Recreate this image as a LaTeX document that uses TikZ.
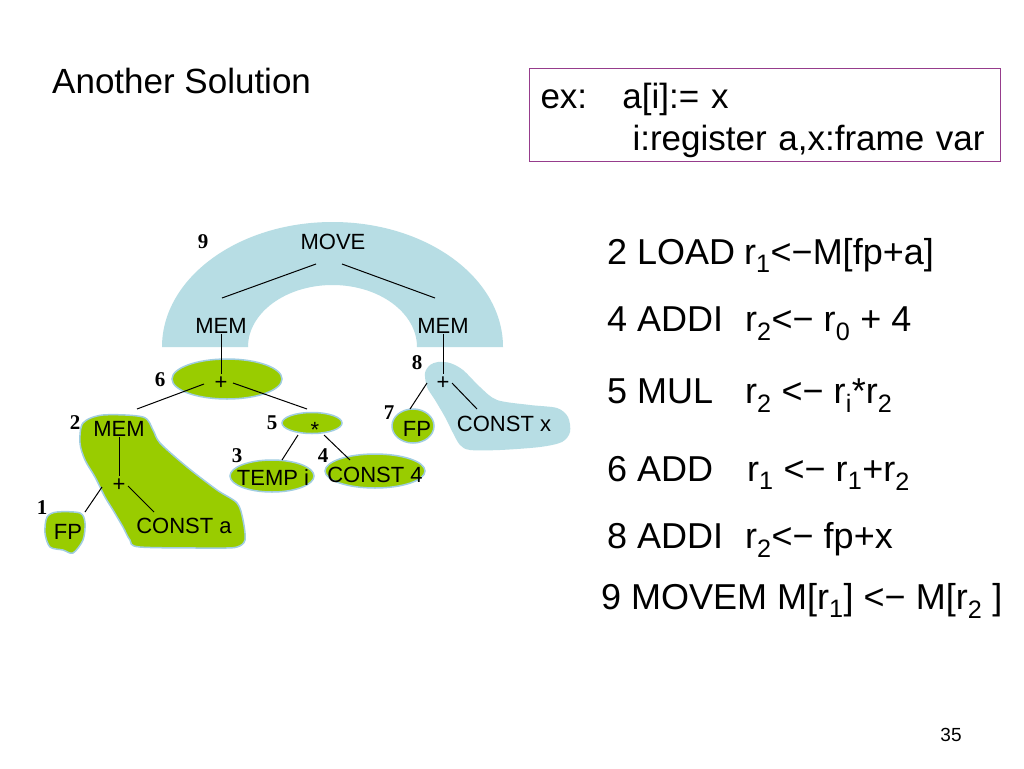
\documentclass[tikz,border=0pt]{standalone}
\usepackage{fontspec}
\setmainfont{Liberation Sans}
\newfontfamily\numfont{Liberation Serif}
\usepackage{tikz}
\newcommand{\Reg}[1]{r\textsubscript{#1}}
\newcommand{\Gets}{<−}
\definecolor{archblue}{RGB}{183,221,228}
\definecolor{leafgreen}{RGB}{153,204,0}
\definecolor{rimblue}{RGB}{160,205,225}
\definecolor{framepurple}{RGB}{150,60,140}

\begin{document}
\begin{tikzpicture}[x=1pt,y=-1pt
        ,tree/.style = {font=\fontsize{22}{26}\selectfont, inner sep=0pt, text height=15pt, text depth=0pt}
        ,num/.style = {font=\numfont\bfseries\fontsize{21}{24}\selectfont, inner sep=0pt, text height=14pt, text depth=0pt}
        ,instr/.style = {font=\fontsize{36}{42}\selectfont, anchor=base west, inner sep=0pt}
        ,branch/.style = {line width=1pt}
        ,patch/.style = {fill=leafgreen, draw=rimblue, line width=1.5pt}
        ,cover/.style = {fill=archblue}
      ]
      \useasboundingbox (0,0) rectangle (1024,768);
      \fill[white] (0,0) rectangle (1024,768);

      \node[anchor=base west, inner sep=0pt, font=\fontsize{35}{42}\selectfont] (title) at (52,93) {Another Solution};
      \node[draw=framepurple, line width=1pt, anchor=north west, inner xsep=11pt, inner ysep=0pt, minimum height=93pt, text width=449pt, align=left, font=\fontsize{35}{42}\selectfont] (ex) at (529,68) {\rule{0pt}{36pt}\makebox[82pt][l]{ex:}a[i]:= x\\ \hspace*{92pt}i:register a,x:frame var};

      % shaded groups
      \fill[cover] (162,347) arc[start angle=180, end angle=360, x radius=170.5, y radius=125] -- (417,347) arc[start angle=0, end angle=-180, x radius=84.5, y radius=62] -- cycle;
      \fill[cover] plot[smooth cycle] coordinates {(430,365) (438,362) (450,363) (463,370) (480,387) (497,400) (530,405) (557,408) (568,417) (570,432) (562,442) (540,447) (500,450) (470,450) (460,445) (453,433) (445,417) (435,400) (427,387) (425,373)};
      \filldraw[patch] plot[smooth cycle] coordinates {(83,423) (103,415) (143,417) (153,430) (160,443) (187,467) (217,490) (237,503) (243,520) (245,540) (237,547) (217,548) (140,547) (130,540) (123,527) (113,510) (105,497) (95,477) (85,460) (80,443)};
      \filldraw[patch] plot[smooth cycle] coordinates {(47,517) (57,512) (80,513) (85,523) (83,540) (73,553) (63,550) (50,547) (45,533)};
      \filldraw[patch] (227,379) ellipse[x radius=55, y radius=20];
      \filldraw[patch] (312,423) ellipse[x radius=30, y radius=10.5];
      \filldraw[patch] (272,476) ellipse[x radius=42, y radius=16];
      \filldraw[patch] (375,471) ellipse[x radius=50, y radius=17];
      \filldraw[patch] (413,426) ellipse[x radius=21, y radius=17];

      % tree
      \node[tree] (move) at (333,241.5) {MOVE};
      \node[tree] (memL) at (221,326) {MEM};
      \node[tree] (memR) at (443,326) {MEM};
      \node[tree] (plusA) at (221,382) {+};
      \node[tree] (star) at (315,425) {\raisebox{-5pt}{*}};
      \node[tree] (memB) at (119,429) {MEM};
      \node[tree] (plusB) at (119,484) {+};
      \node[tree] (fpA) at (68,532) {FP};
      \node[tree] (constA) at (184,526) {CONST a};
      \node[tree] (temp) at (273,478) {TEMP i};
      \node[tree] (constF) at (375,475) {CONST 4};
      \node[tree] (plusC) at (443,382) {+};
      \node[tree] (fpB) at (417,429) {FP};
      \node[tree] (constX) at (504,424) {CONST x};

      \node[num] (k9) at (203,241) {9};
      \node[num] (k6) at (160,379) {6};
      \node[num] (k2) at (75,422) {2};
      \node[num] (k5) at (272,422) {5};
      \node[num] (k3) at (237,455) {3};
      \node[num] (k4) at (323,455) {4};
      \node[num] (k1) at (42,507) {1};
      \node[num] (k8) at (417,362) {8};
      \node[num] (k7) at (389,412) {7};

      \draw[branch] ([shift={(-17,22.5)}]move.center) -- ([shift={(1,-28)}]memL.center);
      \draw[branch] ([shift={(9,22.5)}]move.center) -- ([shift={(-8,-28)}]memR.center);
      \draw[branch] (memL.south) -- (plusA.north);
      \draw[branch] ([shift={(-17,2)}]plusA.center) -- ([shift={(18,-20)}]memB.center);
      \draw[branch] ([shift={(12,1)}]plusA.center) -- ([shift={(-8,-16)}]star.center);
      \draw[branch] (memB.south) -- (plusB.north);
      \draw[branch] ([shift={(-17,3)}]plusB.center) -- ([shift={(17,-20)}]fpA.center);
      \draw[branch] ([shift={(9,2)}]plusB.center) -- ([shift={(-30,-14)}]constA.center);
      \draw[branch] ([shift={(-17,10)}]star.center) -- ([shift={(9,-18)}]temp.center);
      \draw[branch] ([shift={(9,10)}]star.center) -- ([shift={(-25,-15)}]constF.center);
      \draw[branch] (memR.south) -- (plusC.north);
      \draw[branch] ([shift={(-16,1)}]plusC.center) -- ([shift={(-7,-20)}]fpB.center);
      \draw[branch] ([shift={(9,1)}]plusC.center) -- ([shift={(-27,-15)}]constX.center);

      % code
      \node[instr] (ld) at (607,264) {\makebox[137pt][l]{2 LOAD}\Reg{1}\Gets M[fp+a]};
      \node[instr] (addi) at (607,331) {\makebox[138pt][l]{4 ADDI}\Reg{2}\Gets{} \Reg{0} + 4};
      \node[instr] (mul) at (607,403) {\makebox[138pt][l]{5 MUL}\Reg{2} \Gets{} \Reg{i}*\Reg{2}};
      \node[instr] (add) at (607,481) {\makebox[140pt][l]{6 ADD}\Reg{1} \Gets{} \Reg{1}+\Reg{2}};
      \node[instr] (addix) at (607,548) {\makebox[138pt][l]{8 ADDI}\Reg{2}\Gets{} fp+x};
      \node[instr] (movem) at (601,609) {9 MOVEM M[\Reg{1}] \Gets{} M[\Reg{2} ]};

      \node[font=\fontsize{19}{22}\selectfont] (page) at (951,735) {35};
    \end{tikzpicture}
\end{document}
